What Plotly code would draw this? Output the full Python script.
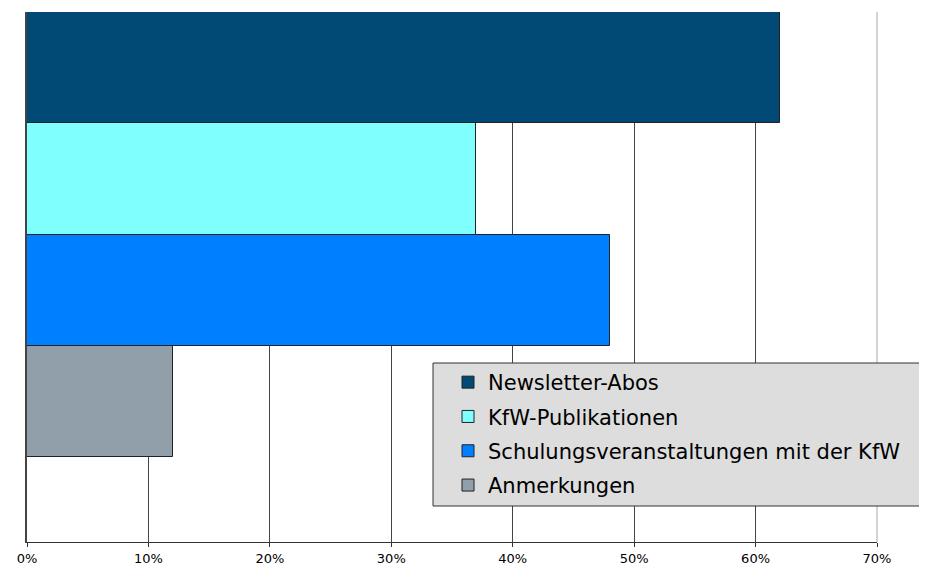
import plotly.graph_objects as go

series = ["Newsletter-Abos", "KfW-Publikationen", "Schulungsveranstaltungen mit der KfW", "Anmerkungen"]
values = [62, 37, 48, 12]
colors = ["#014A75", "#80FFFF", "#0080FF", "#909FA9"]
tick_vals = [0, 10, 20, 30, 40, 50, 60, 70]
tick_text = ["0%", "10%", "20%", "30%", "40%", "50%", "60%", "70%"]
category = [""]

fig = go.Figure()
# plotly stacks horizontal grouped bars bottom->top, so add in reverse
items = list(zip(series, values, colors))
for rank, (name, v, c) in reversed(list(enumerate(items))):
    fig.add_trace(go.Bar(
        y=category, x=[v], name=name, orientation="h",
        marker=dict(color=c, line=dict(color="#222222", width=1)),
        legendgroup=name, legendrank=rank + 1,
    ))

W, H = 927, 569
OFF = 7  # page body offset
# target plot area in screenshot pixels
PX0, PX1, PY0, PY1 = 26, 876, 11, 541
L, T = PX0 - OFF, PY0 - OFF
R = W - (PX1 - OFF)
B = H - (PY1 - OFF)
pw, ph = PX1 - PX0, PY1 - PY0

def px2x(px):
    return (px - PX0) / pw

def px2y(py):
    return (PY1 - py) / ph

fig.add_shape(type="line", xref="paper", yref="paper", x0=1, x1=1, y0=0, y1=1,
              line=dict(color="#AAAAAA", width=1), layer="above")
fig.add_shape(type="rect", xref="paper", yref="paper",
              x0=px2x(432), x1=px2x(935), y0=px2y(505), y1=px2y(362),
              fillcolor="#DDDDDD", line=dict(color="#333333", width=1), layer="above")

fig.update_layout(
    width=W, height=H,
    margin=dict(l=L, r=R, t=T, b=B, autoexpand=False),
    paper_bgcolor="white", plot_bgcolor="white",
    barmode="group", bargap=0, bargroupgap=0,
    font=dict(family="Liberation Sans, Arial, sans-serif", color="black"),
    showlegend=True,
    legend=dict(
        x=px2x(447), y=px2y(361), xanchor="left", yanchor="top",
        bgcolor="rgba(0,0,0,0)", borderwidth=0,
        traceorder="grouped", tracegroupgap=4,
        font=dict(size=21, color="black", family="DejaVu Sans, sans-serif"),
    ),
    xaxis=dict(
        range=[0, 70], tickvals=tick_vals, ticktext=tick_text,
        showgrid=True, gridcolor="#444444", gridwidth=1,
        showline=True, linecolor="#333333", linewidth=1,
        ticks="outside", ticklen=4, tickcolor="#333333",
        tickfont=dict(size=13, family="DejaVu Sans, sans-serif"),
        zeroline=False,
    ),
    yaxis=dict(
        range=[-0.5 - (ph - 445) / 445, 0.5],
        showticklabels=False, showgrid=False,
        showline=True, linecolor="#444444", linewidth=2,
        zeroline=False, ticks="",
    ),
)

fig.write_html("out.html")
